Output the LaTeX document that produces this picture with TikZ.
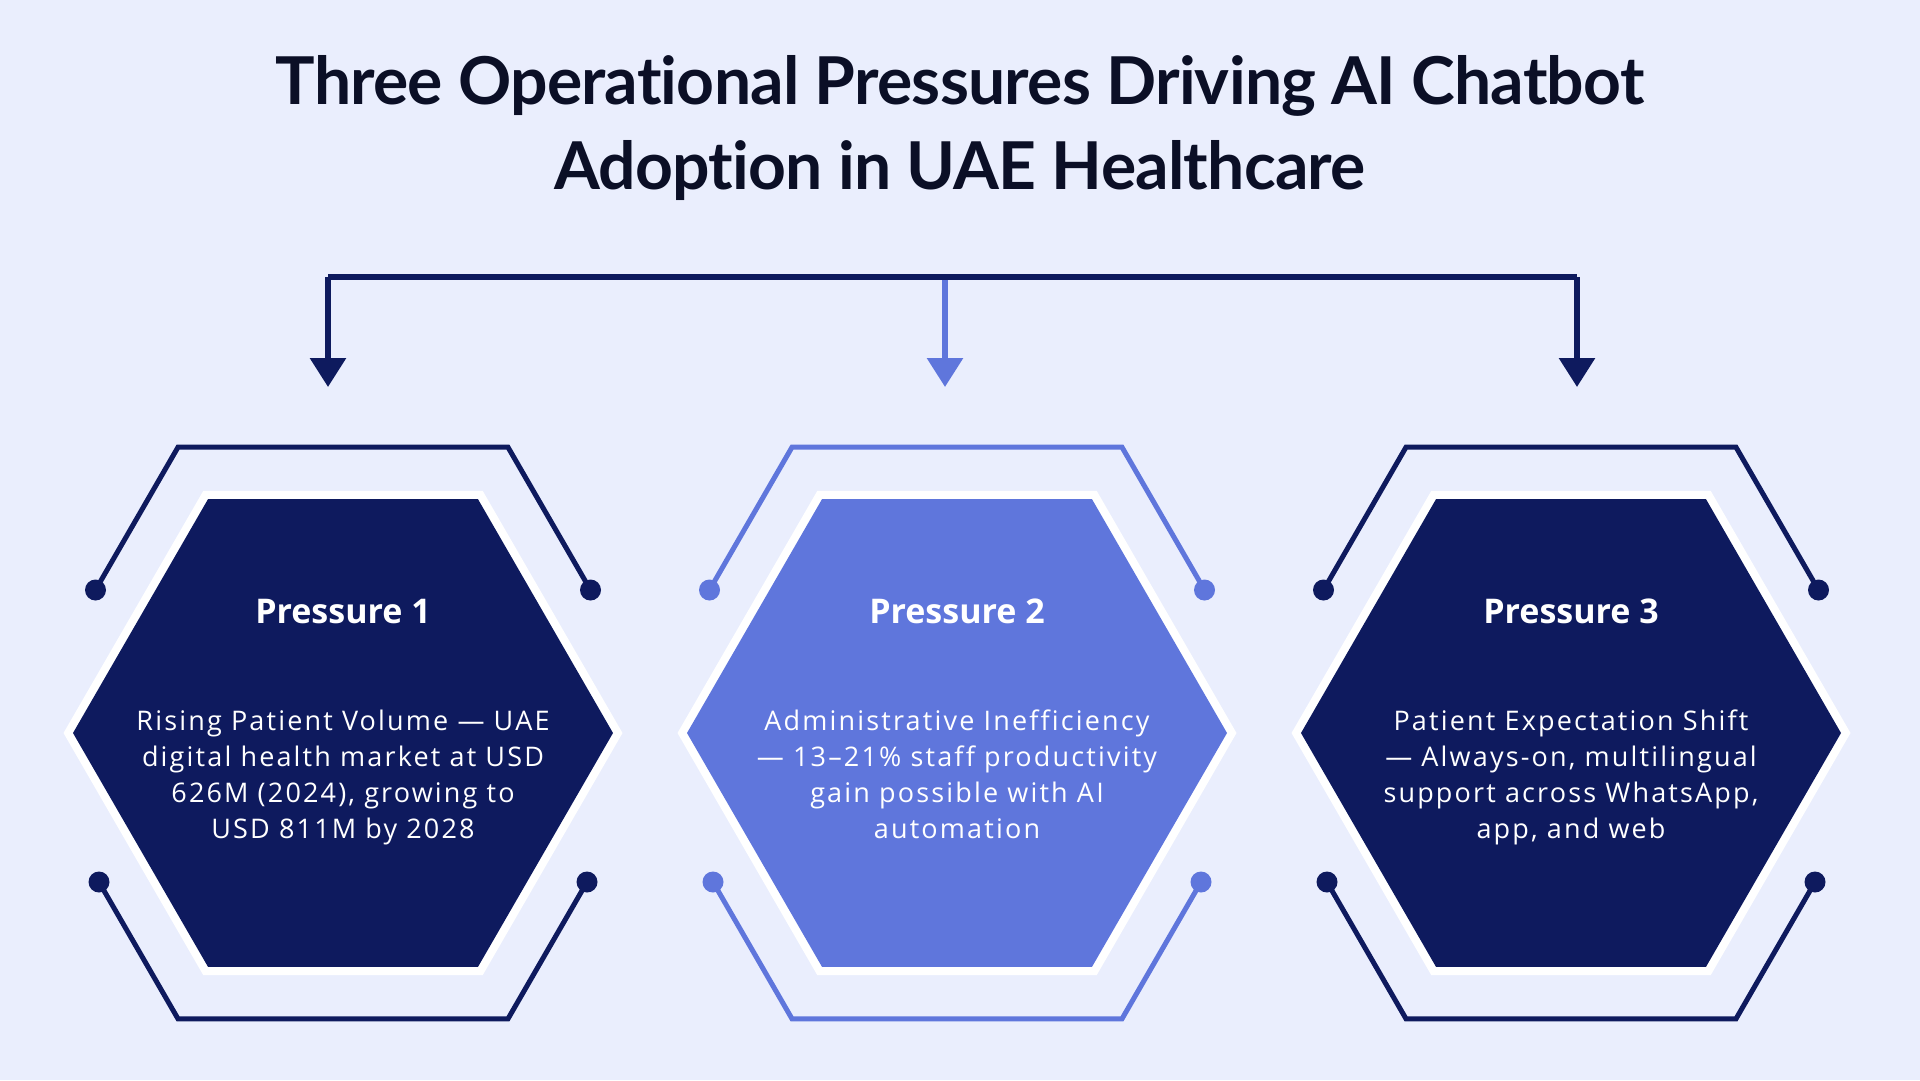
\documentclass[tikz,border=0pt]{standalone}
\usepackage{fontspec}
\usetikzlibrary{arrows.meta,shapes.geometric}
\newfontfamily\titlefont{Lato}[LetterSpace=-1.2, Ligatures={NoCommon}]
\newfontfamily\bodyfont{Open Sans}[LetterSpace=8, Ligatures={NoCommon}]
\newfontfamily\headfont{Open Sans}
\definecolor{bgcol}{HTML}{EAEEFD}
\definecolor{navy}{HTML}{0E1A5E}
\definecolor{midblue}{HTML}{5F76DC}
\definecolor{ink}{HTML}{0B0F26}
\tikzset{
  hexfill/.style={regular polygon, regular polygon sides=6, minimum size=540pt, inner sep=0pt, draw=none},
  hexborder/.style={regular polygon, regular polygon sides=6, minimum size=559pt, inner sep=0pt, fill=white, draw=none},
  bracket/.style={line width=5pt, line join=miter},
  conn/.style={line width=6pt, line join=miter},
  tip/.style={-{Triangle[width=35pt,length=29pt]}},
  titletext/.style={font=\titlefont\bfseries\fontsize{66}{85}\selectfont, text=ink, align=center, inner sep=0pt},
  headtext/.style={font=\headfont\bfseries\fontsize{34}{40}\selectfont, text=white, inner sep=0pt},
  bodytext/.style={font=\bodyfont\fontsize{27}{36}\selectfont, text=white, align=center, inner sep=0pt},
}
\begin{document}
\begin{tikzpicture}[x=1pt,y=-1pt]
\fill[bgcol] (0,0) rectangle (1920,1080);
\useasboundingbox (0,0) rectangle (1920,1080);

\node[titletext, anchor=north] (title) at (960,44)
  {\rule{0pt}{60pt}Three Operational Pressures Driving AI Chatbot\\Adoption in UAE Healthcare};

% connectors
\coordinate (j1) at (328,277);
\coordinate (j3) at (1577,277);
\coordinate (j2) at (945,280);
\coordinate (t1) at (328,387);
\coordinate (t2) at (945,387);
\coordinate (t3) at (1577,387);
\draw[conn, navy] (j1) -- (j3);
\draw[conn, navy, tip] (j1) -- (t1);
\draw[conn, navy, tip] (j3) -- (t3);
\draw[conn, midblue, tip] (j2) -- (t2);

\foreach \i/\cx/\col in {1/343/navy, 2/957/midblue, 3/1571/navy}{
  \begin{scope}[shift={(\cx,733)}]
    \draw[bracket, \col] (-247.5,-143) -- (-165,-285.8) -- (165,-285.8) -- (247.5,-143);
    \draw[bracket, \col] (-244,149) -- (-165,285.8) -- (165,285.8) -- (244,149);
    \fill[\col] (-247.5,-143) circle (10.5pt);
    \fill[\col] (247.5,-143) circle (10.5pt);
    \fill[\col] (-244,149) circle (10.5pt);
    \fill[\col] (244,149) circle (10.5pt);
    \node[hexborder] (hb\i) at (0,0) {};
    \node[hexfill, fill=\col] (h\i) at (0,0) {};
  \end{scope}
}

\node[headtext, anchor=base] (p1) at (343,623) {Pressure 1};
\node[headtext, anchor=base] (p2) at (957,623) {Pressure 2};
\node[headtext, anchor=base] (p3) at (1571,623) {Pressure 3};

\node[bodytext, anchor=north] (d1) at (343,705)
  {\rule{0pt}{25pt}Rising Patient Volume — UAE\\digital health market at USD\\626M (2024), growing to\\USD 811M by 2028};
\node[bodytext, anchor=north] (d2) at (957,705)
  {\rule{0pt}{25pt}Administrative Inefficiency\\— 13–21\% staff productivity\\gain possible with AI\\automation};
\node[bodytext, anchor=north] (d3) at (1571,705)
  {\rule{0pt}{25pt}Patient Expectation Shift\\— Always-on, multilingual\\support across WhatsApp,\\app, and web};
\end{tikzpicture}
\end{document}
